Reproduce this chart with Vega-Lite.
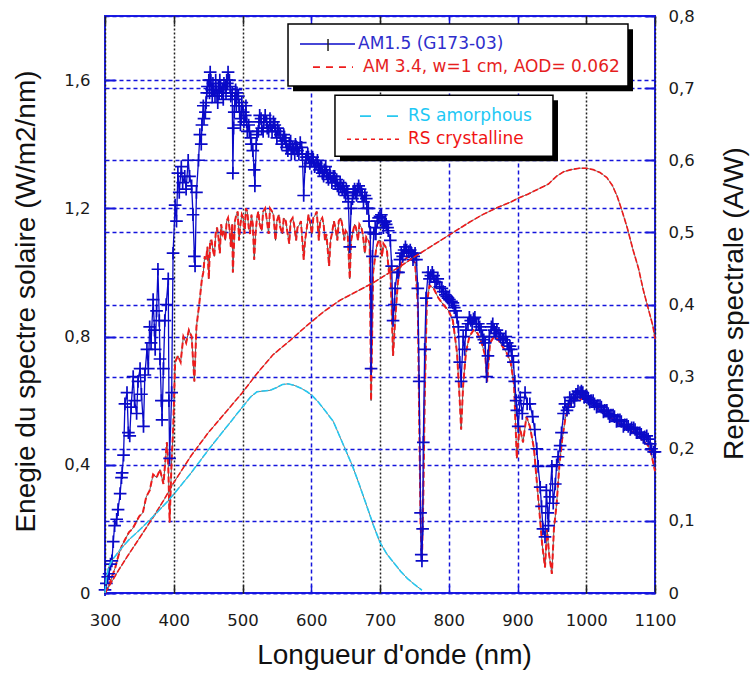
{
  "$schema": "https://vega.github.io/schema/vega-lite/v6.json",
  "width": 550,
  "height": 577,
  "autosize": "none",
  "padding": {"left": 105, "top": 16, "right": 97, "bottom": 80},
  "background": "white",
  "config": {
    "view": {"stroke": "#1c1ce6", "strokeWidth": 2},
    "axis": {"domain": false, "labelFont": "DejaVu Sans", "labelFontSize": 16.5, "labelColor": "#1a1a1a", "labelFlush": false, "labelOverlap": false, "titleFont": "Liberation Sans", "titleFontSize": 28, "titleFontWeight": "normal", "titleColor": "#111111"}
  },
  "datasets": {
    "am15": [
      {"nm":300,"v":0.01},{"nm":302,"v":0.03},{"nm":304,"v":0.05},{"nm":306,"v":0.06},{"nm":308,"v":0.09},{"nm":310,"v":0.1},{"nm":312,"v":0.16},{"nm":314,"v":0.21},{"nm":317,"v":0.23},{"nm":319,"v":0.26},{"nm":322,"v":0.31},{"nm":324,"v":0.36},{"nm":325,"v":0.375},{"nm":327,"v":0.43},{"nm":329,"v":0.59},{"nm":332,"v":0.625},{"nm":334,"v":0.5},{"nm":336,"v":0.49},{"nm":338,"v":0.58},{"nm":341,"v":0.675},{"nm":343,"v":0.6},{"nm":346,"v":0.56},{"nm":348,"v":0.66},{"nm":351,"v":0.7},{"nm":353,"v":0.62},{"nm":356,"v":0.52},{"nm":358,"v":0.68},{"nm":361,"v":0.76},{"nm":363,"v":0.7},{"nm":365,"v":0.83},{"nm":367,"v":0.78},{"nm":370,"v":0.915},{"nm":372,"v":0.82},{"nm":373,"v":0.76},{"nm":375,"v":0.88},{"nm":377,"v":1.01},{"nm":379,"v":0.85},{"nm":380,"v":0.73},{"nm":382,"v":0.6},{"nm":383,"v":0.54},{"nm":385,"v":0.7},{"nm":387,"v":0.85},{"nm":389,"v":0.9},{"nm":392,"v":0.98},{"nm":393,"v":0.6},{"nm":394,"v":0.42},{"nm":397,"v":0.625},{"nm":399,"v":1.06},{"nm":402,"v":1.21},{"nm":404,"v":1.16},{"nm":406,"v":1.31},{"nm":408,"v":1.25},{"nm":411,"v":1.33},{"nm":413,"v":1.28},{"nm":416,"v":1.3},{"nm":418,"v":1.26},{"nm":421,"v":1.35},{"nm":423,"v":1.3},{"nm":426,"v":1.27},{"nm":428,"v":1.18},{"nm":430,"v":1.05},{"nm":431,"v":1.02},{"nm":433,"v":1.25},{"nm":436,"v":1.35},{"nm":438,"v":1.43},{"nm":440,"v":1.4},{"nm":443,"v":1.52},{"nm":446,"v":1.5},{"nm":448,"v":1.56},{"nm":451,"v":1.6},{"nm":453,"v":1.625},{"nm":455,"v":1.57},{"nm":457,"v":1.59},{"nm":460,"v":1.55},{"nm":463,"v":1.55},{"nm":465,"v":1.58},{"nm":467,"v":1.6},{"nm":470,"v":1.56},{"nm":472,"v":1.54},{"nm":475,"v":1.58},{"nm":477,"v":1.6},{"nm":479,"v":1.625},{"nm":482,"v":1.58},{"nm":485,"v":1.56},{"nm":486,"v":1.31},{"nm":488,"v":1.5},{"nm":490,"v":1.57},{"nm":492,"v":1.56},{"nm":495,"v":1.52},{"nm":497,"v":1.46},{"nm":499,"v":1.53},{"nm":501,"v":1.5},{"nm":504,"v":1.49},{"nm":507,"v":1.44},{"nm":509,"v":1.46},{"nm":512,"v":1.42},{"nm":515,"v":1.38},{"nm":517,"v":1.32},{"nm":518,"v":1.27},{"nm":520,"v":1.4},{"nm":523,"v":1.44},{"nm":525,"v":1.49},{"nm":528,"v":1.45},{"nm":531,"v":1.47},{"nm":535,"v":1.47},{"nm":538,"v":1.44},{"nm":541,"v":1.46},{"nm":545,"v":1.47},{"nm":548,"v":1.44},{"nm":551,"v":1.45},{"nm":555,"v":1.43},{"nm":558,"v":1.41},{"nm":561,"v":1.42},{"nm":564,"v":1.39},{"nm":568,"v":1.4},{"nm":571,"v":1.37},{"nm":574,"v":1.385},{"nm":577,"v":1.4},{"nm":580,"v":1.38},{"nm":584,"v":1.405},{"nm":587,"v":1.37},{"nm":589,"v":1.24},{"nm":591,"v":1.33},{"nm":593,"v":1.36},{"nm":596,"v":1.36},{"nm":600,"v":1.35},{"nm":603,"v":1.35},{"nm":607,"v":1.34},{"nm":610,"v":1.33},{"nm":613,"v":1.33},{"nm":616,"v":1.31},{"nm":619,"v":1.32},{"nm":622,"v":1.31},{"nm":625,"v":1.29},{"nm":628,"v":1.3},{"nm":632,"v":1.3},{"nm":635,"v":1.28},{"nm":638,"v":1.27},{"nm":642,"v":1.28},{"nm":645,"v":1.26},{"nm":648,"v":1.25},{"nm":651,"v":1.26},{"nm":654,"v":1.22},{"nm":656,"v":1.08},{"nm":658,"v":1.2},{"nm":661,"v":1.25},{"nm":664,"v":1.25},{"nm":667,"v":1.26},{"nm":671,"v":1.26},{"nm":674,"v":1.24},{"nm":678,"v":1.24},{"nm":681,"v":1.2},{"nm":684,"v":1.16},{"nm":686,"v":1.125},{"nm":687,"v":0.7},{"nm":689,"v":1.05},{"nm":691,"v":1.12},{"nm":693,"v":1.14},{"nm":696,"v":1.16},{"nm":700,"v":1.175},{"nm":703,"v":1.16},{"nm":706,"v":1.155},{"nm":709,"v":1.15},{"nm":712,"v":1.13},{"nm":715,"v":1.1},{"nm":717,"v":1.02},{"nm":719,"v":0.85},{"nm":721,"v":0.9},{"nm":722,"v":0.95},{"nm":725,"v":1.0},{"nm":727,"v":1.0},{"nm":729,"v":1.04},{"nm":731,"v":1.06},{"nm":735,"v":1.07},{"nm":739,"v":1.07},{"nm":742,"v":1.065},{"nm":746,"v":1.06},{"nm":749,"v":1.05},{"nm":753,"v":1.04},{"nm":755,"v":0.95},{"nm":757,"v":0.66},{"nm":759,"v":0.25},{"nm":760,"v":0.12},{"nm":761,"v":0.1},{"nm":762,"v":0.2},{"nm":763,"v":0.47},{"nm":765,"v":0.76},{"nm":767,"v":0.92},{"nm":770,"v":1.0},{"nm":774,"v":0.99},{"nm":778,"v":0.99},{"nm":782,"v":0.97},{"nm":787,"v":0.955},{"nm":792,"v":0.94},{"nm":797,"v":0.925},{"nm":801,"v":0.915},{"nm":806,"v":0.905},{"nm":810,"v":0.88},{"nm":814,"v":0.83},{"nm":816,"v":0.72},{"nm":818,"v":0.66},{"nm":821,"v":0.8},{"nm":823,"v":0.76},{"nm":825,"v":0.82},{"nm":828,"v":0.84},{"nm":832,"v":0.85},{"nm":836,"v":0.855},{"nm":840,"v":0.84},{"nm":845,"v":0.83},{"nm":849,"v":0.8},{"nm":853,"v":0.78},{"nm":855,"v":0.675},{"nm":857,"v":0.74},{"nm":859,"v":0.8},{"nm":862,"v":0.83},{"nm":866,"v":0.82},{"nm":870,"v":0.82},{"nm":875,"v":0.8},{"nm":880,"v":0.79},{"nm":885,"v":0.78},{"nm":889,"v":0.77},{"nm":892,"v":0.74},{"nm":894,"v":0.72},{"nm":896,"v":0.66},{"nm":898,"v":0.6},{"nm":899,"v":0.57},{"nm":901,"v":0.52},{"nm":904,"v":0.61},{"nm":907,"v":0.56},{"nm":911,"v":0.625},{"nm":914,"v":0.59},{"nm":918,"v":0.59},{"nm":922,"v":0.55},{"nm":925,"v":0.51},{"nm":928,"v":0.45},{"nm":930,"v":0.395},{"nm":933,"v":0.33},{"nm":935,"v":0.27},{"nm":937,"v":0.2},{"nm":940,"v":0.175},{"nm":942,"v":0.32},{"nm":944,"v":0.25},{"nm":945,"v":0.21},{"nm":947,"v":0.3},{"nm":950,"v":0.395},{"nm":952,"v":0.28},{"nm":955,"v":0.34},{"nm":957,"v":0.4},{"nm":959,"v":0.425},{"nm":962,"v":0.46},{"nm":964,"v":0.5},{"nm":967,"v":0.56},{"nm":969,"v":0.59},{"nm":972,"v":0.57},{"nm":974,"v":0.58},{"nm":978,"v":0.6},{"nm":981,"v":0.61},{"nm":985,"v":0.62},{"nm":988,"v":0.63},{"nm":991,"v":0.625},{"nm":995,"v":0.625},{"nm":999,"v":0.615},{"nm":1003,"v":0.605},{"nm":1007,"v":0.6},{"nm":1012,"v":0.59},{"nm":1017,"v":0.585},{"nm":1022,"v":0.58},{"nm":1027,"v":0.57},{"nm":1032,"v":0.56},{"nm":1036,"v":0.555},{"nm":1041,"v":0.55},{"nm":1046,"v":0.54},{"nm":1051,"v":0.535},{"nm":1056,"v":0.525},{"nm":1061,"v":0.52},{"nm":1066,"v":0.515},{"nm":1071,"v":0.51},{"nm":1075,"v":0.5},{"nm":1080,"v":0.495},{"nm":1085,"v":0.487},{"nm":1090,"v":0.48},{"nm":1093,"v":0.465},{"nm":1095,"v":0.45},{"nm":1098,"v":0.44},{"nm":1100,"v":0.44},
      {"nm":441,"v":1.46},{"nm":444,"v":1.48},{"nm":447,"v":1.53},{"nm":449,"v":1.58},{"nm":452,"v":1.56},{"nm":454,"v":1.6},{"nm":456,"v":1.55},{"nm":458,"v":1.57},{"nm":461,"v":1.6},{"nm":464,"v":1.53},{"nm":466,"v":1.56},{"nm":468,"v":1.58},{"nm":471,"v":1.57},{"nm":473,"v":1.59},{"nm":476,"v":1.56},{"nm":478,"v":1.59},{"nm":481,"v":1.6},{"nm":483,"v":1.55},{"nm":487,"v":1.45},{"nm":489,"v":1.54},{"nm":491,"v":1.52},{"nm":494,"v":1.55},{"nm":496,"v":1.5},{"nm":498,"v":1.48},
      {"nm":502,"v":1.47},{"nm":505,"v":1.52},{"nm":506,"v":1.47},{"nm":510,"v":1.44},{"nm":513,"v":1.4},{"nm":521,"v":1.43},{"nm":524,"v":1.47},{"nm":527,"v":1.48},{"nm":530,"v":1.44},{"nm":533,"v":1.49},{"nm":536,"v":1.45},{"nm":540,"v":1.48},{"nm":543,"v":1.44},{"nm":547,"v":1.46},{"nm":550,"v":1.42},{"nm":553,"v":1.44},{"nm":557,"v":1.4},{"nm":560,"v":1.43},{"nm":563,"v":1.41},{"nm":566,"v":1.38},{"nm":570,"v":1.41},{"nm":573,"v":1.39},{"nm":576,"v":1.37},{"nm":579,"v":1.39},{"nm":582,"v":1.37},{"nm":586,"v":1.39},{"nm":592,"v":1.35},{"nm":595,"v":1.37},{"nm":598,"v":1.34},{"nm":602,"v":1.36},{"nm":605,"v":1.33},{"nm":609,"v":1.35},{"nm":612,"v":1.32},{"nm":615,"v":1.33},{"nm":618,"v":1.3},{"nm":621,"v":1.33},{"nm":624,"v":1.3},{"nm":627,"v":1.31},{"nm":630,"v":1.28},{"nm":634,"v":1.3},{"nm":637,"v":1.29},{"nm":640,"v":1.26},{"nm":643,"v":1.27},{"nm":647,"v":1.27},{"nm":650,"v":1.24},{"nm":653,"v":1.25},{"nm":660,"v":1.23},{"nm":663,"v":1.26},{"nm":666,"v":1.24},{"nm":669,"v":1.27},{"nm":673,"v":1.25},{"nm":676,"v":1.22},{"nm":680,"v":1.23},{"nm":683,"v":1.2},{"nm":694,"v":1.12},{"nm":698,"v":1.17},{"nm":702,"v":1.18},{"nm":705,"v":1.14},{"nm":708,"v":1.16},{"nm":711,"v":1.14},
      {"nm":733,"v":1.05},{"nm":737,"v":1.08},{"nm":744,"v":1.07},{"nm":748,"v":1.04},{"nm":751,"v":1.06},{"nm":772,"v":0.98},{"nm":776,"v":1.0},{"nm":780,"v":0.97},{"nm":784,"v":0.98},{"nm":790,"v":0.95},{"nm":795,"v":0.93},{"nm":799,"v":0.92},{"nm":804,"v":0.91},{"nm":808,"v":0.89},{"nm":812,"v":0.86},{"nm":830,"v":0.86},{"nm":834,"v":0.84},{"nm":838,"v":0.86},{"nm":843,"v":0.84},{"nm":847,"v":0.82},{"nm":851,"v":0.79},{"nm":864,"v":0.84},{"nm":868,"v":0.81},{"nm":873,"v":0.81},{"nm":878,"v":0.79},{"nm":883,"v":0.8},{"nm":887,"v":0.76},{"nm":891,"v":0.76},
      {"nm":976,"v":0.61},{"nm":983,"v":0.6},{"nm":987,"v":0.62},{"nm":993,"v":0.63},{"nm":997,"v":0.61},{"nm":1001,"v":0.61},{"nm":1005,"v":0.595},{"nm":1010,"v":0.6},{"nm":1015,"v":0.58},{"nm":1020,"v":0.585},{"nm":1025,"v":0.565},{"nm":1030,"v":0.57},{"nm":1034,"v":0.55},{"nm":1039,"v":0.555},{"nm":1044,"v":0.535},{"nm":1049,"v":0.54},{"nm":1054,"v":0.52},{"nm":1059,"v":0.525},{"nm":1064,"v":0.51},{"nm":1069,"v":0.515},{"nm":1073,"v":0.5},{"nm":1078,"v":0.5},{"nm":1083,"v":0.485},{"nm":1088,"v":0.49}
    ],
    "am34": [
      {"nm":300,"v":0.0},{"nm":305,"v":0.02},{"nm":310,"v":0.05},{"nm":315,"v":0.08},{"nm":320,"v":0.12},{"nm":325,"v":0.15},{"nm":330,"v":0.17},{"nm":335,"v":0.19},{"nm":340,"v":0.2},{"nm":345,"v":0.22},{"nm":350,"v":0.24},{"nm":355,"v":0.25},{"nm":360,"v":0.3},{"nm":365,"v":0.32},{"nm":370,"v":0.37},{"nm":375,"v":0.36},{"nm":380,"v":0.385},{"nm":385,"v":0.34},{"nm":390,"v":0.47},{"nm":392,"v":0.4},{"nm":394,"v":0.22},{"nm":397,"v":0.42},{"nm":399,"v":0.5},{"nm":402,"v":0.72},{"nm":406,"v":0.74},{"nm":410,"v":0.72},{"nm":414,"v":0.8},{"nm":418,"v":0.78},{"nm":422,"v":0.82},{"nm":426,"v":0.8},{"nm":430,"v":0.66},{"nm":433,"v":0.83},{"nm":437,"v":0.9},{"nm":441,"v":0.98},{"nm":445,"v":1.05},{"nm":449,"v":1.08},{"nm":453,"v":1.1},{"nm":457,"v":1.07},{"nm":461,"v":1.12},{"nm":465,"v":1.11},{"nm":469,"v":1.15},{"nm":473,"v":1.13},{"nm":477,"v":1.16},{"nm":481,"v":1.14},{"nm":485,"v":1.15},{"nm":486,"v":1.0},{"nm":489,"v":1.16},{"nm":493,"v":1.19},{"nm":497,"v":1.15},{"nm":501,"v":1.17},{"nm":505,"v":1.2},{"nm":509,"v":1.14},{"nm":513,"v":1.18},{"nm":517,"v":1.04},{"nm":521,"v":1.17},{"nm":525,"v":1.15},{"nm":530,"v":1.19},{"nm":535,"v":1.17},{"nm":540,"v":1.2},{"nm":545,"v":1.18},{"nm":550,"v":1.16},{"nm":555,"v":1.14},{"nm":560,"v":1.17},{"nm":565,"v":1.13},{"nm":570,"v":1.16},{"nm":575,"v":1.15},{"nm":580,"v":1.14},{"nm":585,"v":1.16},{"nm":589,"v":1.04},{"nm":593,"v":1.13},{"nm":598,"v":1.16},{"nm":603,"v":1.17},{"nm":608,"v":1.19},{"nm":613,"v":1.16},{"nm":618,"v":1.15},{"nm":622,"v":1.12},{"nm":626,"v":1.02},{"nm":630,"v":1.12},{"nm":635,"v":1.14},{"nm":640,"v":1.16},{"nm":645,"v":1.15},{"nm":650,"v":1.13},{"nm":656,"v":0.98},{"nm":660,"v":1.12},{"nm":665,"v":1.14},{"nm":670,"v":1.15},{"nm":675,"v":1.12},{"nm":680,"v":1.11},{"nm":685,"v":1.09},{"nm":687,"v":0.6},{"nm":690,"v":1.0},{"nm":695,"v":1.08},{"nm":700,"v":1.1},{"nm":705,"v":1.09},{"nm":710,"v":1.07},{"nm":715,"v":1.02},{"nm":719,"v":0.74},{"nm":722,"v":0.85},{"nm":726,"v":0.97},{"nm":731,"v":1.03},{"nm":736,"v":1.04},{"nm":741,"v":1.05},{"nm":746,"v":1.04},{"nm":751,"v":1.03},{"nm":755,"v":0.9},{"nm":757,"v":0.55},{"nm":759,"v":0.22},{"nm":761,"v":0.1},{"nm":763,"v":0.3},{"nm":765,"v":0.6},{"nm":768,"v":0.9},{"nm":772,"v":0.96},{"nm":778,"v":0.95},{"nm":785,"v":0.92},{"nm":792,"v":0.9},{"nm":800,"v":0.88},{"nm":806,"v":0.85},{"nm":812,"v":0.75},{"nm":816,"v":0.6},{"nm":818,"v":0.51},{"nm":821,"v":0.65},{"nm":825,"v":0.75},{"nm":830,"v":0.8},{"nm":836,"v":0.82},{"nm":842,"v":0.81},{"nm":848,"v":0.78},{"nm":853,"v":0.74},{"nm":856,"v":0.66},{"nm":860,"v":0.78},{"nm":866,"v":0.8},{"nm":872,"v":0.79},{"nm":878,"v":0.77},{"nm":884,"v":0.75},{"nm":890,"v":0.72},{"nm":895,"v":0.65},{"nm":899,"v":0.42},{"nm":903,"v":0.52},{"nm":908,"v":0.47},{"nm":913,"v":0.55},{"nm":918,"v":0.52},{"nm":924,"v":0.45},{"nm":928,"v":0.35},{"nm":932,"v":0.25},{"nm":936,"v":0.15},{"nm":940,"v":0.08},{"nm":943,"v":0.2},{"nm":946,"v":0.12},{"nm":950,"v":0.06},{"nm":953,"v":0.2},{"nm":957,"v":0.28},{"nm":961,"v":0.4},{"nm":965,"v":0.48},{"nm":970,"v":0.55},{"nm":975,"v":0.58},{"nm":980,"v":0.6},{"nm":985,"v":0.61},{"nm":990,"v":0.6},{"nm":995,"v":0.61},{"nm":1000,"v":0.6},{"nm":1010,"v":0.59},{"nm":1020,"v":0.57},{"nm":1030,"v":0.555},{"nm":1040,"v":0.54},{"nm":1050,"v":0.525},{"nm":1060,"v":0.51},{"nm":1070,"v":0.5},{"nm":1080,"v":0.48},{"nm":1090,"v":0.46},{"nm":1095,"v":0.43},{"nm":1100,"v":0.38},
      {"nm":443,"v":1.0},{"nm":447,"v":1.04},{"nm":451,"v":0.98},{"nm":455,"v":1.1},{"nm":459,"v":1.05},{"nm":463,"v":1.14},{"nm":467,"v":1.06},{"nm":471,"v":1.12},{"nm":475,"v":1.1},{"nm":479,"v":1.17},{"nm":483,"v":1.08},{"nm":491,"v":1.18},{"nm":495,"v":1.1},{"nm":499,"v":1.18},{"nm":503,"v":1.12},{"nm":507,"v":1.19},{"nm":511,"v":1.12},{"nm":515,"v":1.15},{"nm":519,"v":1.12},{"nm":523,"v":1.19},{"nm":528,"v":1.13},{"nm":533,"v":1.2},{"nm":538,"v":1.12},{"nm":543,"v":1.19},{"nm":548,"v":1.1},{"nm":553,"v":1.18},{"nm":558,"v":1.12},{"nm":563,"v":1.16},{"nm":568,"v":1.09},{"nm":573,"v":1.17},{"nm":578,"v":1.1},{"nm":583,"v":1.15},{"nm":591,"v":1.1},{"nm":596,"v":1.18},{"nm":601,"v":1.12},{"nm":606,"v":1.18},{"nm":611,"v":1.1},{"nm":616,"v":1.17},{"nm":620,"v":1.1},{"nm":628,"v":1.1},{"nm":633,"v":1.16},{"nm":638,"v":1.1},{"nm":643,"v":1.17},{"nm":648,"v":1.1},{"nm":653,"v":1.12},{"nm":658,"v":1.1},{"nm":663,"v":1.15},{"nm":668,"v":1.1},{"nm":673,"v":1.14},{"nm":678,"v":1.06},{"nm":683,"v":1.1},{"nm":693,"v":1.05},{"nm":698,"v":1.1},{"nm":703,"v":1.05},{"nm":708,"v":1.08},{"nm":713,"v":1.0}
    ],
    "rsc": [
      {"nm":300,"v":0},{"nm":310,"v":0.016},{"nm":320,"v":0.032},{"nm":332,"v":0.05},{"nm":350,"v":0.076},{"nm":370,"v":0.105},{"nm":385,"v":0.128},{"nm":400,"v":0.153},{"nm":425,"v":0.19},{"nm":450,"v":0.222},{"nm":475,"v":0.25},{"nm":500,"v":0.278},{"nm":520,"v":0.303},{"nm":544,"v":0.33},{"nm":569,"v":0.35},{"nm":594,"v":0.371},{"nm":618,"v":0.39},{"nm":642,"v":0.406},{"nm":666,"v":0.418},{"nm":690,"v":0.43},{"nm":710,"v":0.442},{"nm":730,"v":0.453},{"nm":750,"v":0.466},{"nm":770,"v":0.478},{"nm":790,"v":0.49},{"nm":810,"v":0.502},{"nm":830,"v":0.514},{"nm":850,"v":0.525},{"nm":870,"v":0.534},{"nm":890,"v":0.542},{"nm":900,"v":0.547},{"nm":915,"v":0.553},{"nm":930,"v":0.56},{"nm":945,"v":0.567},{"nm":957,"v":0.578},{"nm":967,"v":0.584},{"nm":978,"v":0.587},{"nm":990,"v":0.589},{"nm":1000,"v":0.589},{"nm":1010,"v":0.587},{"nm":1020,"v":0.583},{"nm":1030,"v":0.576},{"nm":1038,"v":0.565},{"nm":1045,"v":0.55},{"nm":1052,"v":0.53},{"nm":1060,"v":0.505},{"nm":1068,"v":0.476},{"nm":1076,"v":0.45},{"nm":1083,"v":0.42},{"nm":1090,"v":0.395},{"nm":1097,"v":0.37},{"nm":1100,"v":0.352}
    ],
    "rsa": [
      {"nm":300,"v":0},{"nm":302,"v":0.02},{"nm":305,"v":0.035},{"nm":310,"v":0.045},{"nm":322,"v":0.06},{"nm":335,"v":0.074},{"nm":351,"v":0.088},{"nm":370,"v":0.106},{"nm":390,"v":0.126},{"nm":400,"v":0.137},{"nm":424,"v":0.165},{"nm":450,"v":0.198},{"nm":475,"v":0.228},{"nm":500,"v":0.258},{"nm":512,"v":0.272},{"nm":521,"v":0.279},{"nm":530,"v":0.28},{"nm":540,"v":0.281},{"nm":550,"v":0.285},{"nm":558,"v":0.289},{"nm":566,"v":0.29},{"nm":575,"v":0.288},{"nm":585,"v":0.284},{"nm":594,"v":0.279},{"nm":601,"v":0.274},{"nm":610,"v":0.265},{"nm":620,"v":0.253},{"nm":632,"v":0.238},{"nm":646,"v":0.207},{"nm":660,"v":0.176},{"nm":670,"v":0.15},{"nm":681,"v":0.12},{"nm":690,"v":0.095},{"nm":700,"v":0.07},{"nm":710,"v":0.054},{"nm":720,"v":0.042},{"nm":730,"v":0.03},{"nm":740,"v":0.02},{"nm":750,"v":0.012},{"nm":758,"v":0.006},{"nm":761,"v":0.004}
    ]
  },
  "resolve": {"scale": {"y": "independent"}, "axis": {"x": "independent", "y": "independent"}},
  "layer": [
    {
      "data": {"name": "am34"},
      "mark": {"type": "line", "color": "#333333", "strokeWidth": 0.8},
      "encoding": {
        "x": {"field": "nm", "type": "quantitative", "scale": {"domain": [300, 1100], "nice": false},
          "axis": {"orient": "bottom", "values": [300,400,500,600,700,800,900,1000,1100], "format": "d", "title": "Longueur d'onde (nm)",
            "grid": true,
            "gridColor": {"condition": {"test": "datum.value == 600 || datum.value == 800 || datum.value == 900", "value": "#1414dc"}, "value": "#222222"},
            "gridDash": {"condition": {"test": "datum.value == 600 || datum.value == 800 || datum.value == 900", "value": [4, 3]}, "value": [2, 2]},
            "gridWidth": 1.5,
            "tickSize": -8, "tickWidth": 1.5,
            "tickColor": {"condition": {"test": "datum.value == 600 || datum.value == 800 || datum.value == 900", "value": "#1414dc"}, "value": "#222222"},
            "labelPadding": 27,
            "titleX": 289, "titleY": 70, "titleBaseline": "alphabetic", "titleAlign": "center"}},
        "y": {"field": "v", "type": "quantitative", "scale": {"domain": [0, 1.8], "nice": false},
          "axis": {"orient": "left", "values": [0, 0.4, 0.8, 1.2, 1.6],
            "labelExpr": "datum.value == 0 ? '0' : replace(format(datum.value, '.1f'), '.', ',')",
            "grid": true, "gridColor": "#1414dc", "gridDash": [4, 3], "gridWidth": 1.5,
            "tickSize": -10, "tickWidth": 2, "tickColor": "#1414dc",
            "labelPadding": 25,
            "title": "Enegie du spectre solaire (W/m2/nm)", "titleAngle": 270, "titleX": -71, "titleY": 285, "titleBaseline": "alphabetic", "titleAlign": "center"}}
      }
    },
    {
      "data": {"name": "am34"},
      "mark": {"type": "line", "color": "#ee1c1c", "strokeWidth": 2, "strokeDash": [6, 3]},
      "encoding": {
        "x": {"field": "nm", "type": "quantitative", "scale": {"domain": [300, 1100], "nice": false}, "axis": null},
        "y": {"field": "v", "type": "quantitative", "scale": {"domain": [0, 1.8], "nice": false}, "axis": null}
      }
    },
    {
      "data": {"name": "am15"},
      "mark": {"type": "line", "color": "#0a0ac8", "strokeWidth": 1.3},
      "encoding": {
        "x": {"field": "nm", "type": "quantitative", "scale": {"domain": [300, 1100], "nice": false}, "axis": null},
        "y": {"field": "v", "type": "quantitative", "scale": {"domain": [0, 1.8], "nice": false}, "axis": null}
      }
    },
    {
      "data": {"name": "am15"},
      "mark": {"type": "point", "shape": "M-1,0L1,0M0,-1L0,1", "filled": false, "color": "#0a0ac8", "strokeWidth": 1.7, "size": 160, "opacity": 1},
      "encoding": {
        "x": {"field": "nm", "type": "quantitative", "scale": {"domain": [300, 1100], "nice": false}, "axis": null},
        "y": {"field": "v", "type": "quantitative", "scale": {"domain": [0, 1.8], "nice": false}, "axis": null}
      }
    },
    {
      "data": {"name": "rsc"},
      "mark": {"type": "line", "color": "#555555", "strokeWidth": 0.8},
      "encoding": {
        "x": {"field": "nm", "type": "quantitative", "scale": {"domain": [300, 1100], "nice": false},
          "axis": {"orient": "top", "values": [300,400,500,600,700,800,900,1000,1100], "labels": false, "grid": false, "title": null,
            "tickSize": -8, "tickWidth": 1.5,
            "tickColor": {"condition": {"test": "datum.value == 600 || datum.value == 800 || datum.value == 900", "value": "#1414dc"}, "value": "#222222"}}},
        "y": {"field": "v", "type": "quantitative", "scale": {"domain": [0, 0.8], "nice": false},
          "axis": {"orient": "right", "values": [0, 0.1, 0.2, 0.3, 0.4, 0.5, 0.6, 0.7, 0.8],
            "labelExpr": "datum.value == 0 ? '0' : replace(format(datum.value, '.1f'), '.', ',')",
            "grid": true, "gridColor": "#1414dc", "gridDash": [4, 3], "gridWidth": 1.5,
            "tickSize": -10, "tickWidth": 2, "tickColor": "#1414dc",
            "labelPadding": 23,
            "title": "Reponse spectrale (A/W)", "titleAngle": 270, "titleX": 87, "titleY": 287, "titleBaseline": "alphabetic", "titleAlign": "center"}}
      }
    },
    {
      "data": {"name": "rsc"},
      "mark": {"type": "line", "color": "#ee1c1c", "strokeWidth": 1.6, "strokeDash": [6, 2]},
      "encoding": {
        "x": {"field": "nm", "type": "quantitative", "scale": {"domain": [300, 1100], "nice": false}, "axis": null},
        "y": {"field": "v", "type": "quantitative", "scale": {"domain": [0, 0.8], "nice": false}, "axis": null}
      }
    },
    {
      "data": {"name": "rsa"},
      "mark": {"type": "line", "color": "#555555", "strokeWidth": 0.8},
      "encoding": {
        "x": {"field": "nm", "type": "quantitative", "scale": {"domain": [300, 1100], "nice": false}, "axis": null},
        "y": {"field": "v", "type": "quantitative", "scale": {"domain": [0, 0.8], "nice": false}, "axis": null}
      }
    },
    {
      "data": {"name": "rsa"},
      "mark": {"type": "line", "color": "#28c8f0", "strokeWidth": 1.6, "strokeDash": [7, 2]},
      "encoding": {
        "x": {"field": "nm", "type": "quantitative", "scale": {"domain": [300, 1100], "nice": false}, "axis": null},
        "y": {"field": "v", "type": "quantitative", "scale": {"domain": [0, 0.8], "nice": false}, "axis": null}
      }
    },
    {
      "data": {"values": [{}]},
      "mark": {"type": "rect", "color": "#000000"},
      "encoding": {
        "x": {"datum": 573.5, "type": "quantitative", "scale": {"domain": [300, 1100], "nice": false}, "axis": null},
        "x2": {"datum": 1068},
        "y": {"datum": 1.759, "type": "quantitative", "scale": {"domain": [0, 1.8], "nice": false}, "axis": null},
        "y2": {"datum": 1.5656}
      }
    },
    {
      "data": {"values": [{}]},
      "mark": {"type": "rect", "fill": "#ffffff", "stroke": "#000000", "strokeWidth": 1.5},
      "encoding": {
        "x": {"datum": 566.2, "type": "quantitative", "scale": {"domain": [300, 1100], "nice": false}, "axis": null},
        "x2": {"datum": 1060.7},
        "y": {"datum": 1.775, "type": "quantitative", "scale": {"domain": [0, 1.8], "nice": false}, "axis": null},
        "y2": {"datum": 1.58125}
      }
    },
    {
      "data": {"values": [{}]},
      "mark": {"type": "rect", "color": "#000000"},
      "encoding": {
        "x": {"datum": 641.8, "type": "quantitative", "scale": {"domain": [300, 1100], "nice": false}, "axis": null},
        "x2": {"datum": 958.9},
        "y": {"datum": 1.5375, "type": "quantitative", "scale": {"domain": [0, 1.8], "nice": false}, "axis": null},
        "y2": {"datum": 1.347}
      }
    },
    {
      "data": {"values": [{}]},
      "mark": {"type": "rect", "fill": "#ffffff", "stroke": "#000000", "strokeWidth": 1.5},
      "encoding": {
        "x": {"datum": 634.5, "type": "quantitative", "scale": {"domain": [300, 1100], "nice": false}, "axis": null},
        "x2": {"datum": 951.6},
        "y": {"datum": 1.553, "type": "quantitative", "scale": {"domain": [0, 1.8], "nice": false}, "axis": null},
        "y2": {"datum": 1.3625}
      }
    },
    {
      "data": {"values": [{}]},
      "mark": {"type": "rule", "color": "#0a0ac8", "strokeWidth": 1.5},
      "encoding": {
        "x": {"datum": 583.6, "type": "quantitative", "scale": {"domain": [300, 1100], "nice": false}, "axis": null},
        "x2": {"datum": 663.6},
        "y": {"datum": 1.7125, "type": "quantitative", "scale": {"domain": [0, 1.8], "nice": false}, "axis": null}
      }
    },
    {
      "data": {"values": [{}]},
      "mark": {"type": "rule", "color": "#222222", "strokeWidth": 1.5},
      "encoding": {
        "x": {"datum": 624.4, "type": "quantitative", "scale": {"domain": [300, 1100], "nice": false}, "axis": null},
        "y": {"datum": 1.728, "type": "quantitative", "scale": {"domain": [0, 1.8], "nice": false}, "axis": null},
        "y2": {"datum": 1.6906}
      }
    },
    {
      "data": {"values": [{}]},
      "mark": {"type": "rule", "color": "#ee1c1c", "strokeWidth": 1.6, "strokeDash": [7, 6]},
      "encoding": {
        "x": {"datum": 602.5, "type": "quantitative", "scale": {"domain": [300, 1100], "nice": false}, "axis": null},
        "x2": {"datum": 660.7},
        "y": {"datum": 1.6406, "type": "quantitative", "scale": {"domain": [0, 1.8], "nice": false}, "axis": null}
      }
    },
    {
      "data": {"values": [{}]},
      "mark": {"type": "rule", "color": "#28c8f0", "strokeWidth": 1.6, "strokeDash": [11, 16]},
      "encoding": {
        "x": {"datum": 670.9, "type": "quantitative", "scale": {"domain": [300, 1100], "nice": false}, "axis": null},
        "x2": {"datum": 729.1},
        "y": {"datum": 1.4875, "type": "quantitative", "scale": {"domain": [0, 1.8], "nice": false}, "axis": null}
      }
    },
    {
      "data": {"values": [{}]},
      "mark": {"type": "rule", "color": "#ee1c1c", "strokeWidth": 1.4, "strokeDash": [4, 4]},
      "encoding": {
        "x": {"datum": 652, "type": "quantitative", "scale": {"domain": [300, 1100], "nice": false}, "axis": null},
        "x2": {"datum": 732},
        "y": {"datum": 1.4156, "type": "quantitative", "scale": {"domain": [0, 1.8], "nice": false}, "axis": null}
      }
    },
    {
      "data": {"values": [{"label": "AM1.5 (G173-03)"}]},
      "mark": {"type": "text", "align": "left", "baseline": "middle", "font": "DejaVu Sans", "fontSize": 17, "color": "#2e2ecc"},
      "encoding": {
        "x": {"datum": 668, "type": "quantitative", "scale": {"domain": [300, 1100], "nice": false}, "axis": null},
        "y": {"datum": 1.7125, "type": "quantitative", "scale": {"domain": [0, 1.8], "nice": false}, "axis": null},
        "text": {"field": "label"}
      }
    },
    {
      "data": {"values": [{"label": "AM 3.4, w=1 cm, AOD= 0.062"}]},
      "mark": {"type": "text", "align": "left", "baseline": "middle", "font": "DejaVu Sans", "fontSize": 17, "color": "#e61e1e"},
      "encoding": {
        "x": {"datum": 675.3, "type": "quantitative", "scale": {"domain": [300, 1100], "nice": false}, "axis": null},
        "y": {"datum": 1.6406, "type": "quantitative", "scale": {"domain": [0, 1.8], "nice": false}, "axis": null},
        "text": {"field": "label"}
      }
    },
    {
      "data": {"values": [{"label": "RS amorphous"}]},
      "mark": {"type": "text", "align": "left", "baseline": "middle", "font": "DejaVu Sans", "fontSize": 17, "color": "#1ec8f5"},
      "encoding": {
        "x": {"datum": 740.7, "type": "quantitative", "scale": {"domain": [300, 1100], "nice": false}, "axis": null},
        "y": {"datum": 1.4875, "type": "quantitative", "scale": {"domain": [0, 1.8], "nice": false}, "axis": null},
        "text": {"field": "label"}
      }
    },
    {
      "data": {"values": [{"label": "RS crystalline"}]},
      "mark": {"type": "text", "align": "left", "baseline": "middle", "font": "DejaVu Sans", "fontSize": 17, "color": "#f01414"},
      "encoding": {
        "x": {"datum": 740.7, "type": "quantitative", "scale": {"domain": [300, 1100], "nice": false}, "axis": null},
        "y": {"datum": 1.4156, "type": "quantitative", "scale": {"domain": [0, 1.8], "nice": false}, "axis": null},
        "text": {"field": "label"}
      }
    }
  ]
}
